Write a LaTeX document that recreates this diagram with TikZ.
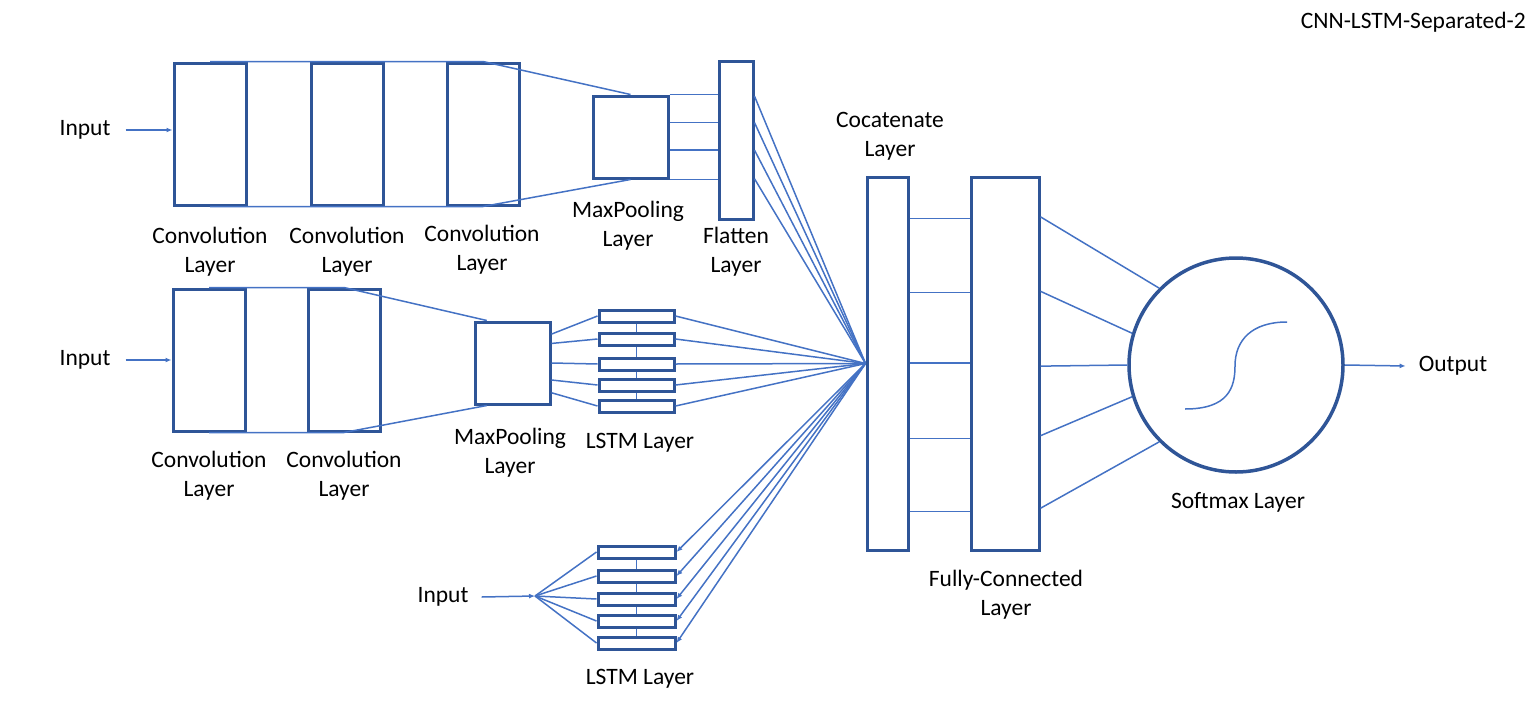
\documentclass[tikz,border=0pt]{standalone}
\usepackage{fontspec}
\setmainfont{Carlito}
\usetikzlibrary{arrows.meta,calc}
\definecolor{boxc}{HTML}{2F5597}
\definecolor{linec}{HTML}{4472C4}
\begin{document}
\begin{tikzpicture}[x=1pt,y=-1pt,
  layerbox/.style={draw=boxc,line width=3pt,inner sep=0pt,fill=white},
  conn/.style={draw=linec,line width=1.5pt},
  arr/.style={conn,-{Latex[length=6pt,width=5pt]}},
  lbl/.style={align=center,font=\fontsize{23.5}{29}\selectfont,inner sep=1pt}]
\useasboundingbox (0,0) rectangle (1536,720);
% top branch
\node[layerbox,minimum width=72,minimum height=142] (c1) at (210,134) {};
\node[layerbox,minimum width=72,minimum height=142] (c2) at (347,134) {};
\node[layerbox,minimum width=72,minimum height=142] (c3) at (483,134) {};
\node[layerbox,minimum width=75,minimum height=82] (mp1) at (630.5,137) {};
\node[layerbox,minimum width=34,minimum height=158] (fl) at (736,140) {};
% middle branch
\node[layerbox,minimum width=72,minimum height=142] (m1) at (209,360) {};
\node[layerbox,minimum width=72,minimum height=142] (m2) at (344,360) {};
\node[layerbox,minimum width=75,minimum height=82] (mp2) at (512.5,363) {};
\foreach \i/\y in {1/316,2/339,3/364,4/385,5/406}
  \node[layerbox,minimum width=75,minimum height=12] (ls\i) at (636.5,\y) {};
% bottom branch
\foreach \i/\y in {1/552,2/576,3/599,4/621,5/643}
  \node[layerbox,minimum width=77,minimum height=12] (lb\i) at (636.5,\y) {};
% right part
\node[layerbox,minimum width=41,minimum height=373] (cat) at (887.5,363.5) {};
\node[layerbox,minimum width=68,minimum height=373] (fc) at (1005,363.5) {};
\node[draw=boxc,line width=3.5pt,circle,minimum size=214,inner sep=0pt] (sm) at (1236,365) {};
\coordinate (cp) at (cat.west);
\coordinate (fp) at (535,596);
% texts
\node[lbl] (in1) at (85,130) {Input};
\node[lbl] (in2) at (85,360) {Input};
\node[lbl] (in3) at (443,597) {Input};
\node[lbl] (out) at (1453,366) {Output};
\node[lbl] at (210,252) {Convolution\\Layer};
\node[lbl] at (347,252) {Convolution\\Layer};
\node[lbl] at (482,250) {Convolution\\Layer};
\node[lbl] at (628,226) {MaxPooling\\Layer};
\node[lbl] at (736,252) {Flatten\\Layer};
\node[lbl] at (209,476) {Convolution\\Layer};
\node[lbl] at (344,476) {Convolution\\Layer};
\node[lbl] at (510,453) {MaxPooling\\Layer};
\node[lbl] at (640,443) {LSTM Layer};
\node[lbl] at (640,679) {LSTM Layer};
\node[lbl] at (890,136) {Cocatenate\\Layer};
\node[lbl] at (1006,595) {Fully-Connected\\Layer};
\node[lbl] at (1238,502) {Softmax Layer};
\node[lbl,anchor=east] at (1527,22) {CNN-LSTM-Separated-2};
% input arrows
\draw[arr] ([xshift=14pt]in1.east) -- (in1.east -| c1.west);
\draw[arr] ([xshift=14pt]in2.east) -- (in2.east -| m1.west);
\draw[arr] ([xshift=12pt]in3.east) -- (fp);
% top connectors
\draw[conn] (c1.north) -- (c3.north) -- (mp1.north);
\draw[conn] (c1.south) -- (c3.south) -- (mp1.south);
\foreach \f in {0,0.33,0.65,1}
  \draw[conn] ($(mp1.north east)!\f!(mp1.south east)$) coordinate (t) -- (t -| fl.west);
\foreach \f in {0.228,0.392,0.563,0.741}
  \draw[conn] ($(fl.north east)!\f!(fl.south east)$) -- (cp);
% middle connectors
\draw[conn] (m1.north) -- (m2.north) -- ($(mp2.north west)!0.17!(mp2.north east)$);
\draw[conn] (m1.south) -- (m2.south) -- ($(mp2.south west)!0.17!(mp2.south east)$);
\foreach \i/\f in {1/0.16,2/0.27,3/0.5,4/0.7,5/0.85}
  \draw[conn] ($(mp2.north east)!\f!(mp2.south east)$) -- (ls\i.west);
\foreach \i in {1,...,5}
  \draw[conn] (ls\i.east) -- (cp);
\foreach \a/\b in {1/2,2/3,3/4,4/5}
  \draw[conn] (ls\a.south) -- (ls\b.north);
% bottom connectors
\foreach \i in {1,...,5}
  \draw[conn] (fp) -- (lb\i.west);
\foreach \i in {1,...,5}
  \draw[arr] (cp) -- (lb\i.east);
\foreach \a/\b in {1/2,2/3,3/4,4/5}
  \draw[conn] (lb\a.south) -- (lb\b.north);
% concat to FC
\foreach \f in {0.115,0.311,0.499,0.70,0.893}
  \draw[conn] ($(cat.north east)!\f!(cat.south east)$) coordinate (t) -- (t -| fc.west);
% FC to softmax
\foreach \f/\ang in {0.110/135,0.308/163,0.507/180,0.692/197,0.885/225}
  \draw[conn] ($(fc.north east)!\f!(fc.south east)$) -- (sm.\ang);
% sigmoid
\draw[conn] (1185,409) .. controls (1228,409) and (1235,388) .. (1235,366)
  .. controls (1235,340) and (1252,322) .. (1287,322);
% output
\draw[arr] (sm.east) -- ([xshift=-12pt]out.west);
\end{tikzpicture}
\end{document}
